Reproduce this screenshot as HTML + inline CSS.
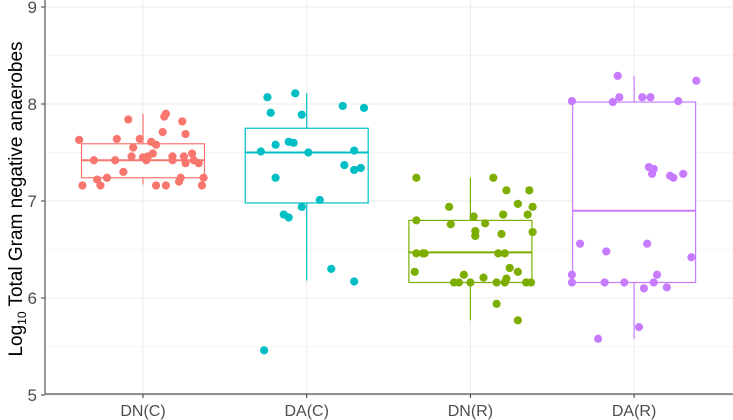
<!DOCTYPE html>
<html><head><meta charset="utf-8"><style>
body{margin:0;background:#fff;}
svg{display:block;font-family:"Liberation Sans",sans-serif;}
</style></head><body>
<svg id="chart" width="733" height="420" viewBox="0 0 733 420" xmlns="http://www.w3.org/2000/svg">
<g id="grid"></g><g id="boxes"></g><g id="points"></g><g id="axes"></g>
<text transform="translate(22,199) rotate(-90)" text-anchor="middle" font-size="19" fill="#000">Log<tspan font-size="12" dy="4">10</tspan><tspan dy="-4"> Total Gram negative anaerobes</tspan></text>
</svg>
<script>
const categories = ["DN(C)","DA(C)","DN(R)","DA(R)"];
const colors = ["#F8766D","#00BFC4","#7CAE00","#C77CFF"];
const yTicks = [5,6,7,8,9];
const boxQ1 = [7.24,6.98,6.16,6.16];
const boxMedian = [7.42,7.50,6.47,6.90];
const boxQ3 = [7.59,7.75,6.80,8.02];
const whiskerLow = [7.17,6.18,5.77,5.58];
const whiskerHigh = [7.90,8.11,7.24,8.29];
const dnC = [[-0.39,7.63],[-0.37,7.16],[-0.30,7.42],[-0.28,7.22],[-0.26,7.16],[-0.22,7.24],[-0.16,7.64],[-0.17,7.42],[-0.12,7.30],[-0.09,7.84],[-0.07,7.46],[-0.06,7.55],[-0.02,7.64],[0,7.45],[0.02,7.42],[0.03,7.46],[0.05,7.61],[0.06,7.49],[0.08,7.58],[0.08,7.16],[0.12,7.71],[0.13,7.87],[0.14,7.90],[0.14,7.16],[0.18,7.46],[0.18,7.42],[0.22,7.20],[0.23,7.24],[0.24,7.82],[0.26,7.69],[0.25,7.46],[0.26,7.39],[0.30,7.49],[0.31,7.42],[0.34,7.39],[0.36,7.16],[0.37,7.24]];
const daC = [[-0.24,8.07],[-0.07,8.11],[-0.22,7.91],[-0.03,7.89],[0.22,7.98],[0.35,7.96],[-0.19,7.58],[-0.11,7.61],[-0.08,7.60],[-0.28,7.51],[0.01,7.50],[0.29,7.52],[0.23,7.37],[0.29,7.32],[0.33,7.34],[-0.19,7.24],[0.08,7.01],[-0.03,6.94],[-0.14,6.86],[-0.11,6.83],[0.15,6.30],[0.29,6.17],[-0.26,5.46]];
const dnR = [[-0.33,7.24],[0.14,7.24],[0.22,7.11],[0.36,7.11],[-0.13,6.94],[0.29,6.97],[0.38,6.94],[0.02,6.84],[0.20,6.86],[0.35,6.86],[-0.33,6.80],[-0.12,6.76],[0.09,6.77],[0.03,6.69],[0.03,6.64],[0.19,6.66],[0.38,6.68],[-0.33,6.46],[-0.29,6.46],[-0.28,6.46],[0.17,6.46],[0.21,6.46],[-0.34,6.27],[-0.04,6.24],[0.24,6.31],[0.29,6.27],[0.08,6.21],[0.22,6.20],[-0.10,6.16],[-0.07,6.16],[0,6.16],[0.16,6.16],[0.21,6.16],[0.34,6.16],[0.37,6.16],[0.16,5.94],[0.29,5.77]];
const daR = [[-0.10,8.29],[0.38,8.24],[-0.38,8.03],[-0.13,8.02],[-0.09,8.07],[0.05,8.07],[0.10,8.07],[0.27,8.03],[0.09,7.35],[0.12,7.33],[0.11,7.28],[0.22,7.26],[0.24,7.24],[0.30,7.28],[-0.33,6.56],[-0.17,6.48],[0.08,6.56],[0.35,6.42],[-0.38,6.24],[-0.38,6.16],[-0.18,6.16],[-0.06,6.16],[0.14,6.24],[0.12,6.16],[0.06,6.10],[0.20,6.11],[0.03,5.70],[-0.22,5.58]];
const seriesPoints = [dnC,daC,dnR,daR];

const NS="http://www.w3.org/2000/svg";
const L=45,R=733,T=0,B=394;
function xPos(i){return 143+i*163.7;}
function yPos(v){return 201-(v-7)*97;}
function mk(tag,attrs,parent){const e=document.createElementNS(NS,tag);for(const k in attrs)e.setAttribute(k,attrs[k]);parent.appendChild(e);return e;}
const grid=document.getElementById('grid'),boxes=document.getElementById('boxes'),pts=document.getElementById('points'),axes=document.getElementById('axes');
for(let v=5;v<=9;v+=0.5){
  const g=mk('line',{x1:L,x2:R,y1:yPos(v),y2:yPos(v),stroke:'#ebebeb','stroke-width':v%1===0?1:0.6},grid);
  
  
}
categories.forEach((c,i)=>{
  const g=mk('line',{x1:xPos(i),x2:xPos(i),y1:T,y2:B,stroke:'#ebebeb','stroke-width':1},grid);
  
  
});
categories.forEach((c,i)=>{
  const cx=xPos(i),hw=61.5,col=colors[i];
  const w1=mk('line',{x1:cx,x2:cx,y1:yPos(boxQ3[i]),y2:yPos(whiskerHigh[i]),stroke:col,'stroke-width':1.2},boxes);
  
  
  const w2=mk('line',{x1:cx,x2:cx,y1:yPos(boxQ1[i]),y2:yPos(whiskerLow[i]),stroke:col,'stroke-width':1.2},boxes);
  
  
  const r=mk('rect',{x:cx-hw,y:yPos(boxQ3[i]),width:2*hw,height:yPos(boxQ1[i])-yPos(boxQ3[i]),fill:'#fff',stroke:col,'stroke-width':1.2},boxes);
  
  
  const m=mk('line',{x1:cx-hw,x2:cx+hw,y1:yPos(boxMedian[i]),y2:yPos(boxMedian[i]),stroke:col,'stroke-width':2},boxes);
  
  
  seriesPoints[i].forEach(p=>{
    const d=mk('circle',{cx:cx+p[0]*163.7,cy:yPos(p[1]),r:4.1,fill:col},pts);
    
    
  });
  const t=mk('text',{x:cx,y:416,'text-anchor':'middle','font-size':16,fill:'#4d4d4d'},axes);
  t.textContent=c;
  
  
  const tk=mk('line',{x1:cx,x2:cx,y1:B,y2:B+4,stroke:'#333','stroke-width':1},axes);
  
  
});
yTicks.forEach(v=>{
  const t=mk('text',{x:37,y:yPos(v)+6,'text-anchor':'end','font-size':17,fill:'#4d4d4d'},axes);
  t.textContent=v;
  
  
  const tk=mk('line',{x1:L-4,x2:L,y1:yPos(v),y2:yPos(v),stroke:'#333','stroke-width':1},axes);
  
  
});
const ya=mk('line',{x1:L,x2:L,y1:T,y2:B,stroke:'#555','stroke-width':1.2},axes);


const xa=mk('line',{x1:L,x2:R,y1:B,y2:B,stroke:'#555','stroke-width':1.2},axes);


</script>
</body></html>
